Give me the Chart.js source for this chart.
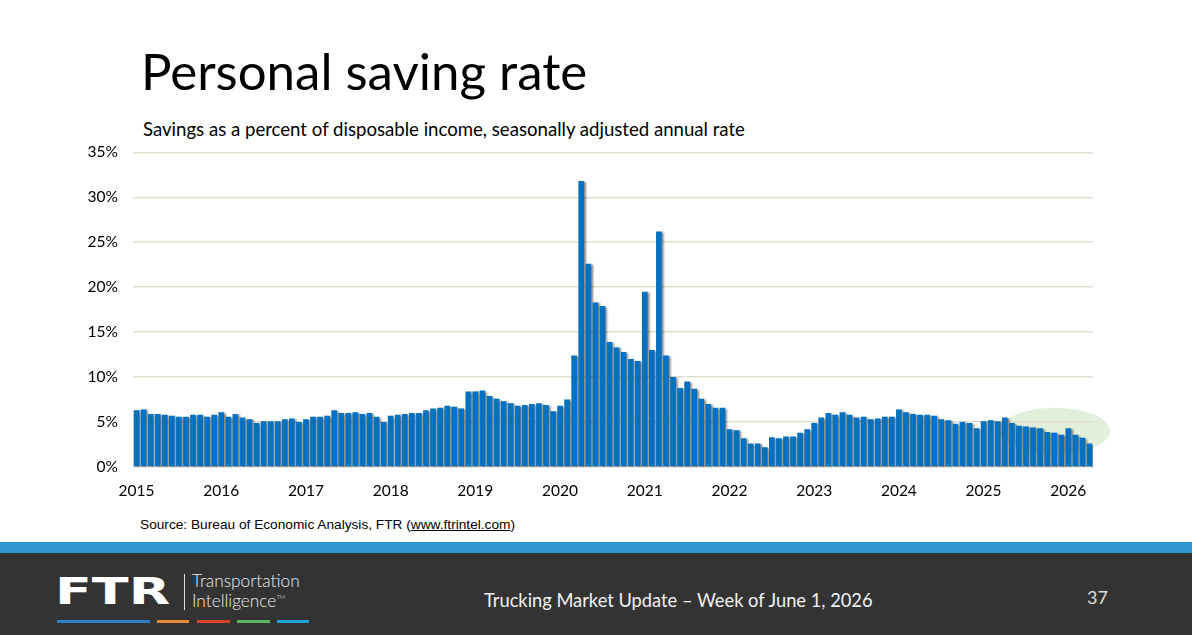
<!DOCTYPE html>
<html>
<head>
<meta charset="utf-8">
<script src="https://cdn.jsdelivr.net/npm/chart.js@4.4.1/dist/chart.umd.min.js"></script>
<style>
  html, body { margin:0; padding:0; background:#fff; }
  body { width:1192px; height:635px; position:relative; overflow:hidden; font-family: Lato, "Open Sans", sans-serif; }
  .abs { position:absolute; white-space:nowrap; }
  #title { left:141px; top:42px; font-size:51px; line-height:58px; color:#000; }
  #subtitle { left:143px; top:117px; font-size:18.6px; line-height:24px; color:#000; }
  #source { left:140px; top:517px; font-family:"Liberation Sans", Arial, sans-serif; font-size:13.7px; color:#000; }
  #source u { text-decoration:underline; }
  #chartBox { position:absolute; left:0; top:128px; width:1192px; height:382px; }
  #band { position:absolute; left:0; top:542px; width:1192px; height:11px; background:#2f96cd; }
  #footer { position:absolute; left:0; top:553px; width:1192px; height:82px; background:#333333; }
  #ftr { left:55px; top:569px; font-family:"DejaVu Sans", sans-serif; font-weight:bold; font-size:38px; color:#fff; letter-spacing:0px; transform:scaleX(1.42); transform-origin:left top; }
  #sep { position:absolute; left:184px; top:574px; width:1px; height:36px; background:#ddd; }
  #tr1 { left:192px; top:570px; font-size:17.3px; color:#eee; font-weight:300; }
  #tr2 { left:192px; top:590px; font-size:17.3px; color:#eee; font-weight:300; }
  #tr2 sup { font-size:6px; vertical-align:8px; }
  .ln { position:absolute; top:620px; height:3px; }
  #foottext { left:484px; top:589px; font-size:18.3px; color:#f2f2f2; }
  #page { left:1087px; top:586px; font-size:18px; color:#ddd; }
</style>
</head>
<body>
<div id="title" class="abs">Personal saving rate</div>
<div id="subtitle" class="abs">Savings as a percent of disposable income, seasonally adjusted annual rate</div>
<div id="chartBox"><canvas id="c" width="1192" height="382"></canvas></div>
<div id="source" class="abs">Source: Bureau of Economic Analysis, FTR (<u>www.ftrintel.com</u>)</div>
<div id="band"></div>
<div id="footer"></div>
<div id="ftr" class="abs">FTR</div>
<div id="sep"></div>
<div id="tr1" class="abs">Transportation</div>
<div id="tr2" class="abs">Intelligence<sup>TM</sup></div>
<div class="ln" style="left:57px;width:93px;background:#2f7fc3;"></div>
<div class="ln" style="left:157px;width:32px;background:#e98b3a;"></div>
<div class="ln" style="left:197px;width:33px;background:#d9412f;"></div>
<div class="ln" style="left:237px;width:33px;background:#5cb65a;"></div>
<div class="ln" style="left:277px;width:32px;background:#1ea3da;"></div>
<div id="foottext" class="abs">Trucking Market Update – Week of June 1, 2026</div>
<div id="page" class="abs">37</div>

<script>
// ---- Data ----
const years = ['2015','2016','2017','2018','2019','2020','2021','2022','2023','2024','2025','2026'];
const monthNames = ['Jan','Feb','Mar','Apr','May','Jun','Jul','Aug','Sep','Oct','Nov','Dec'];
const monthsIn2026 = 4;

const rate2015 = [6.3, 6.4, 5.9, 5.9, 5.8, 5.7, 5.6, 5.6, 5.8, 5.8, 5.6, 5.8];
const rate2016 = [6.1, 5.6, 5.9, 5.5, 5.3, 4.9, 5.1, 5.1, 5.1, 5.3, 5.4, 5.0];
const rate2017 = [5.3, 5.6, 5.6, 5.7, 6.3, 6.0, 6.0, 6.1, 5.9, 6.0, 5.6, 5.0];
const rate2018 = [5.7, 5.8, 5.9, 6.0, 6.0, 6.3, 6.5, 6.6, 6.8, 6.7, 6.5, 8.4];
const rate2019 = [8.4, 8.5, 7.9, 7.6, 7.3, 7.1, 6.8, 6.9, 7.0, 7.1, 6.9, 6.2];
const rate2020 = [6.8, 7.5, 12.4, 31.8, 22.6, 18.3, 17.9, 13.9, 13.3, 12.8, 12.0, 11.8];
const rate2021 = [19.5, 13.0, 26.2, 12.4, 10.0, 8.8, 9.5, 8.7, 7.6, 7.0, 6.6, 6.6];
const rate2022 = [4.2, 4.1, 3.2, 2.6, 2.6, 2.2, 3.3, 3.2, 3.4, 3.4, 3.8, 4.2];
const rate2023 = [4.9, 5.5, 6.0, 5.8, 6.1, 5.8, 5.5, 5.6, 5.3, 5.4, 5.6, 5.6];
const rate2024 = [6.4, 6.1, 5.9, 5.8, 5.8, 5.7, 5.3, 5.2, 4.8, 5.0, 4.9, 4.3];
const rate2025 = [5.1, 5.2, 5.1, 5.5, 4.9, 4.6, 4.5, 4.4, 4.3, 3.9, 3.8, 3.6];
const rate2026 = [4.3, 3.6, 3.25, 2.6];

const yTicks = [0, 5, 10, 15, 20, 25, 30, 35];

// highlight ellipse (in data units: category index & percent)
const highlight = { centerIndex: 130.1, centerValue: 4.0, halfWidthCats: 7.8, halfHeightPct: 2.6 };

// ---- Build ----
const savingRate = [].concat(rate2015, rate2016, rate2017, rate2018, rate2019, rate2020,
  rate2021, rate2022, rate2023, rate2024, rate2025, rate2026);
const categories = [];
years.forEach((y, yi) => {
  const n = (yi === years.length - 1) ? monthsIn2026 : 12;
  for (let m = 0; m < n; m++) categories.push(monthNames[m] + ' ' + y);
});

const ellipsePlugin = {
  id: 'ellipse',
  beforeDraw(chart) {
    const x = chart.scales.x, y = chart.scales.y, ctx = chart.ctx;
    const cx = x.getPixelForValue(highlight.centerIndex);
    const step = x.getPixelForValue(1) - x.getPixelForValue(0);
    const cy = y.getPixelForValue(highlight.centerValue);
    const ry = Math.abs(y.getPixelForValue(highlight.halfHeightPct) - y.getPixelForValue(0));
    ctx.save();
    ctx.beginPath();
    ctx.ellipse(cx, cy, highlight.halfWidthCats * step, ry, 0, 0, Math.PI * 2);
    ctx.fillStyle = '#e2efda';
    ctx.fill();
    ctx.restore();
  }
};
const shadowPlugin = {
  id: 'barShadow',
  beforeDatasetsDraw(chart) {
    const ctx = chart.ctx;
    ctx.save();
    ctx.shadowColor = 'rgba(0,0,0,0.45)';
    ctx.shadowBlur = 2;
    ctx.shadowOffsetX = 2;
    ctx.shadowOffsetY = 1;
  },
  afterDatasetsDraw(chart) { chart.ctx.restore(); }
};

const tickFont = { family: 'Lato, "Open Sans", sans-serif', size: 15.5 };

new Chart(document.getElementById('c'), {
  type: 'bar',
  data: {
    labels: categories,
    datasets: [{
      data: savingRate,
      backgroundColor: '#0070c0',
      borderWidth: 0,
      barPercentage: 0.8,
      categoryPercentage: 1.0
    }]
  },
  options: {
    responsive: false,
    animation: false,
    devicePixelRatio: 1,
    layout: { padding: { top: 11, right: 99, left: 0, bottom: 0 } },
    plugins: { legend: { display: false }, tooltip: { enabled: false } },
    scales: {
      x: {
        grid: { display: false },
        border: { display: false },
        ticks: {
          autoSkip: false, maxRotation: 0, minRotation: 0,
          color: '#000', font: tickFont, padding: 7,
          callback: (v, i) => (i % 12 === 0 ? years[i / 12] : '')
        },
        afterFit: (s) => { s.height = 43; }
      },
      y: {
        min: yTicks[0], max: yTicks[yTicks.length - 1],
        afterBuildTicks: (s) => { s.ticks = yTicks.map(v => ({ value: v })); },
        grid: { color: '#e2dece', lineWidth: 1.5, drawTicks: false },
        border: { display: false },
        ticks: { color: '#000', font: tickFont, padding: 15, callback: v => v + '%' },
        afterFit: (s) => { s.width = 133; }
      }
    }
  },
  plugins: [ellipsePlugin, shadowPlugin]
});
</script>
</body>
</html>
